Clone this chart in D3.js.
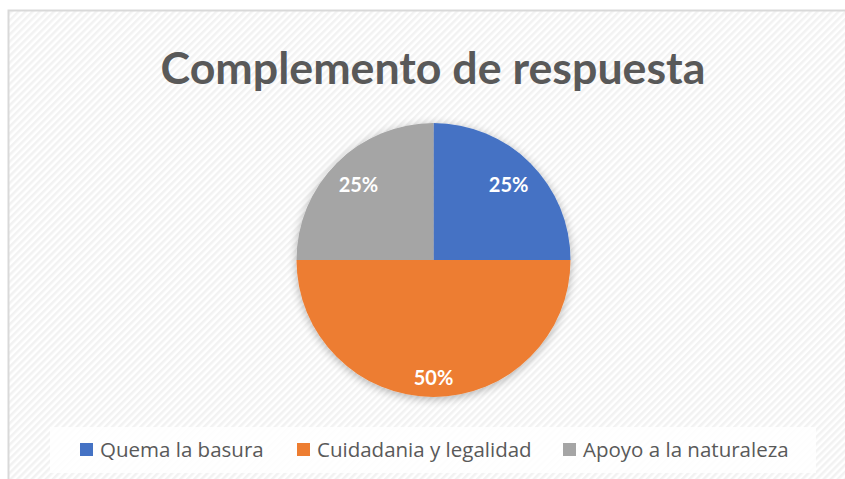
<!DOCTYPE html>
<html><head><meta charset="utf-8">
<script src="https://cdn.jsdelivr.net/npm/d3@7"></script>
<style>html,body{margin:0;padding:0;background:#fff;}svg{display:block;}</style>
</head><body>
<script>
const categories = ["Quema la basura", "Cuidadania y legalidad", "Apoyo a la naturaleza"];
const values = [25, 50, 25];
const labels = ["25%", "50%", "25%"];
const colors = ["#4472C4", "#ED7D31", "#A5A5A5"];
const title = "Complemento de respuesta";

const W = 845, H = 479;
const svg = d3.select("body").append("svg").attr("width", W).attr("height", H);
const defs = svg.append("defs");
const pat = defs.append("pattern").attr("id","diag").attr("patternUnits","userSpaceOnUse")
  .attr("width",5).attr("height",5).attr("patternTransform","rotate(45)");
pat.append("rect").attr("width",5).attr("height",5).attr("fill","#ffffff");
pat.append("rect").attr("width",2.5).attr("height",5).attr("fill","#f2f2f2");
const f = defs.append("filter").attr("id","sh").attr("x","-20%").attr("y","-20%").attr("width","140%").attr("height","140%");
f.append("feGaussianBlur").attr("in","SourceAlpha").attr("stdDeviation",5);
f.append("feOffset").attr("dx",0).attr("dy",2).attr("result","b");
f.append("feComponentTransfer").append("feFuncA").attr("type","linear").attr("slope",0.3);
const m = f.append("feMerge"); m.append("feMergeNode"); m.append("feMergeNode").attr("in","SourceGraphic");

// chart area
svg.append("rect").attr("x",8.5).attr("y",10.5).attr("width",W).attr("height",H)
  .attr("fill","url(#diag)").attr("stroke","#d9d9d9").attr("stroke-width",2);

// title
const t = svg.append("text").attr("x",433).attr("y",84).attr("text-anchor","middle")
  .attr("font-family","Lato, 'Open Sans', sans-serif").attr("font-weight","bold")
  .attr("font-size",52).attr("fill","#595959").text(title);
const tw = t.node().getComputedTextLength();
t.attr("font-size", 52 * 545 / tw);

// pie
const cx = 433.5, cy = 260, r = 137;
const pie = d3.pie().sort(null).startAngle(0).endAngle(2*Math.PI).value(d => d);
const arcs = pie(values);
const arc = d3.arc().innerRadius(0).outerRadius(r);
const g = svg.append("g").attr("transform",`translate(${cx},${cy})`);
g.append("g").attr("filter","url(#sh)").selectAll("path").data(arcs).join("path")
  .attr("d", arc).attr("fill",(d,i)=>colors[i]);
g.selectAll("text.l").data(arcs).join("text").attr("class","l")
  .attr("transform", d => {
    const lr = (d.endAngle - d.startAngle) > Math.PI*0.75 ? r*0.86 : r*0.775;
    const c = d3.arc().innerRadius(lr).outerRadius(lr).centroid(d);
    return `translate(${c[0]},${c[1]})`; })
  .attr("text-anchor","middle").attr("dy","0.36em")
  .attr("font-family","Lato, 'Open Sans', sans-serif").attr("font-weight","bold")
  .attr("font-size",20).attr("fill","#ffffff").text((d,i)=>labels[i]);

// legend
svg.append("rect").attr("x",50).attr("y",427).attr("width",766).attr("height",46).attr("fill","#ffffff").attr("opacity",0.85);
const legX = [80, 297, 563];
const lg = svg.append("g");
const items = [];
categories.forEach((c,i)=>{
  lg.append("rect").attr("x",legX[i]).attr("y",443).attr("width",13).attr("height",13).attr("fill",colors[i]);
  items.push(lg.append("text").attr("x",legX[i]+20).attr("y",457).attr("font-family","'Open Sans', Lato, sans-serif")
    .attr("font-size",18).attr("fill","#595959").text(c));
});
const total = items.reduce((s,e)=>s+e.node().getComputedTextLength(),0);
const fs = 18 * (163+213+208) / total;
items.forEach(e=>e.attr("font-size",fs));
</script>
</body></html>
